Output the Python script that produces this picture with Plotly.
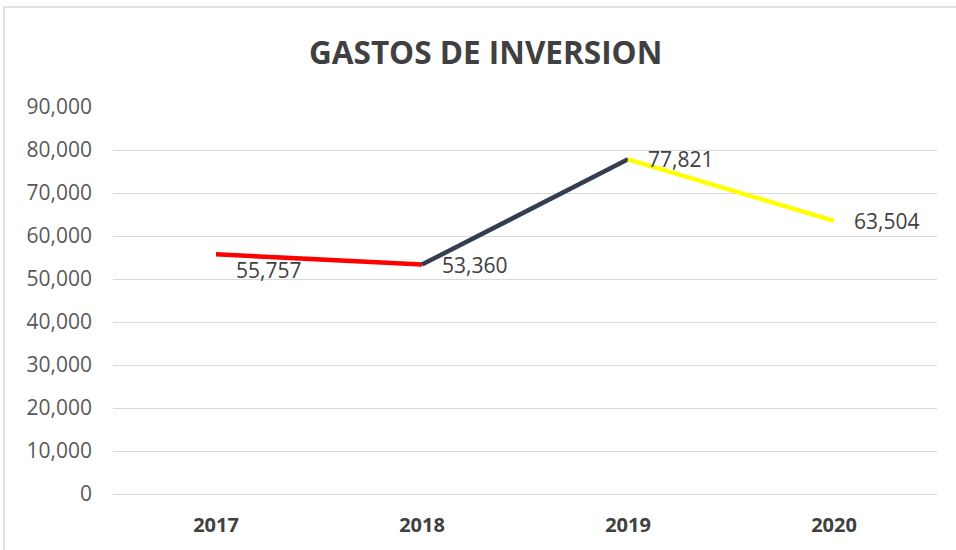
import plotly.graph_objects as go

years = ["2017", "2018", "2019", "2020"]
gastos = [55757, 53360, 77821, 63504]
segment_colors = ["#FF0000", "#333F50", "#FFFF00"]
label_yshift = [-16, 0, 0, 0]

fig = go.Figure()

# one trace per segment so every segment gets its own colour
for i in range(len(years) - 1):
    fig.add_trace(go.Scatter(
        x=[years[i], years[i + 1]],
        y=[gastos[i], gastos[i + 1]],
        mode="lines",
        line=dict(color=segment_colors[i], width=4.5),
        showlegend=False,
        hoverinfo="skip",
    ))

# labels: x given as category index so "2017" is not read as a number
for i, (val, dy) in enumerate(zip(gastos, label_yshift)):
    fig.add_annotation(
        x=i, y=val, text=f"{val:,}",
        showarrow=False, xanchor="left", yanchor="middle",
        xshift=18, yshift=dy,
        font=dict(family="Open Sans", size=21, color="#404040"),
    )

# chart frame
fig.add_shape(type="rect", xref="paper", yref="paper",
              x0=-0.1323, x1=1.05, y0=-0.3, y1=1.2584,
              line=dict(color="#D9D9D9", width=1.5), layer="below")

fig.update_layout(
    width=956, height=550,
    margin=dict(l=113, r=19, t=107, b=56),
    paper_bgcolor="white", plot_bgcolor="white",
    title=dict(text="<b>GASTOS DE INVERSION</b>", x=0.508, xanchor="center",
               y=0.903, yanchor="middle",
               font=dict(family="Open Sans", size=31.5, color="#404040")),
    xaxis=dict(type="category", range=[-0.5, 3.5], showgrid=False,
               showline=False, zeroline=False, ticks="",
               ticklabelstandoff=17,
               tickfont=dict(family="Open Sans", size=20, color="#404040", weight="bold")),
    yaxis=dict(range=[0, 90000], dtick=10000, tickformat=",d",
               showgrid=True, gridcolor="#D9D9D9", gridwidth=1.3,
               zeroline=True, zerolinecolor="#D9D9D9", zerolinewidth=1.3,
               showline=False, ticks="", ticklabelstandoff=20,
               tickfont=dict(family="Open Sans", size=21, color="#595959")),
)

# drop the default 8px page margin so the figure sits at the window origin
fig.write_html("out.html", config={"displayModeBar": False},
               post_script="document.body.style.margin='0px';")
